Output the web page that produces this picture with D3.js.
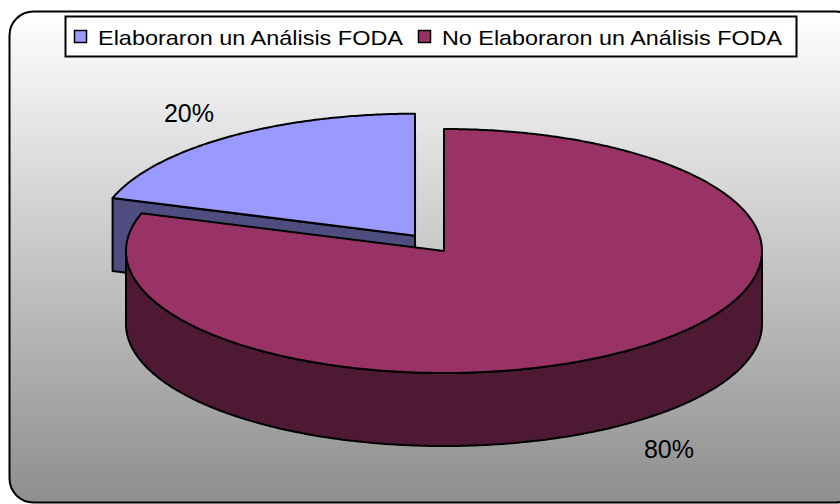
<!DOCTYPE html>
<html>
<head>
<meta charset="utf-8">
<script src="https://cdn.jsdelivr.net/npm/d3@7"></script>
<style>
  html, body { margin: 0; padding: 0; background: #fff; }
  svg { display: block; font-family: "Liberation Sans", Arial, sans-serif; }
</style>
</head>
<body>
<svg id="chart" width="840" height="504"></svg>
<script>
// chart data
const categories = ["Elaboraron un Análisis FODA", "No Elaboraron un Análisis FODA"];
const values = [20, 80];
const pctLabels = ["20%", "80%"];
const topColors = ["#9999ff", "#993366"];
const sideColors = ["#4d4d80", "#4d1933"];

const svg = d3.select("#chart");
const width = 840, height = 504;

// background gradient + rounded frame
const defs = svg.append("defs");
const grad = defs.append("linearGradient")
    .attr("id", "bg").attr("x1", 0).attr("y1", 0).attr("x2", 0).attr("y2", 1);
grad.append("stop").attr("offset", "0%").attr("stop-color", "#ffffff");
grad.append("stop").attr("offset", "100%").attr("stop-color", "#8e8e8e");

svg.append("rect")
    .attr("x", 9.5).attr("y", 11.5)
    .attr("width", 850).attr("height", 491)
    .attr("rx", 24).attr("ry", 24)
    .attr("fill", "url(#bg)")
    .attr("stroke", "#000").attr("stroke-width", 2);

// pie geometry
const cx = 444, cy = 251, rx = 318, ry = 122, depth = 73;
const explode = 0.155;

const pie = d3.pie().sort(null)
    .startAngle(-72 * Math.PI / 180)
    .endAngle(288 * Math.PI / 180);
const arcs = pie(values);

// angle -> point on ellipse (0 = top, clockwise)
function pt(a, ox, oy, dz) {
    return [ox + rx * Math.sin(a), oy - ry * Math.cos(a) + (dz || 0)];
}
function arcPts(a0, a1, ox, oy, dz) {
    const n = Math.max(2, Math.ceil(Math.abs(a1 - a0) / 0.01));
    const step = d3.scaleLinear().domain([0, n]).range([a0, a1]);
    return d3.range(n + 1).map(i => pt(step(i), ox, oy, dz));
}
const line = d3.line();

function offsetOf(d) {
    if (d.index !== 0) return [cx, cy];
    const mid = (d.startAngle + d.endAngle) / 2;
    return [cx + explode * rx * Math.sin(mid), cy - explode * ry * Math.cos(mid)];
}

const g = svg.append("g");

arcs.forEach(d => {
    const [ox, oy] = offsetOf(d);
    const i = d.index;
    const sty = sel => sel.attr("stroke", "#000").attr("stroke-width", 2)
        .attr("stroke-linejoin", "round");

    // cut face at start angle (visible when it faces the viewer)
    if (Math.sin(d.startAngle) < 0 && i === 0) {
        const p = pt(d.startAngle, ox, oy);
        const face = [[ox, oy], p, [p[0], p[1] + depth], [ox, oy + depth]];
        g.append("path").attr("d", line(face) + "Z")
            .attr("fill", sideColors[i]).call(sty);
    }

    // outer side, front half only (PI/2 .. 3PI/2)
    const s0 = Math.max(d.startAngle, Math.PI / 2);
    const s1 = Math.min(d.endAngle, 3 * Math.PI / 2);
    if (s1 > s0) {
        const topEdge = arcPts(s0, s1, ox, oy, 0);
        const botEdge = arcPts(s1, s0, ox, oy, depth);
        g.append("path").attr("d", line(topEdge.concat(botEdge)) + "Z")
            .attr("fill", sideColors[i]).call(sty);
    }

    // top face
    const top = [[ox, oy]].concat(arcPts(d.startAngle, d.endAngle, ox, oy, 0));
    g.append("path").attr("d", line(top) + "Z")
        .attr("fill", topColors[i]).call(sty);
});

// percentage labels
const labelPos = [[189, 122], [669, 458]];
svg.selectAll("text.pct").data(pctLabels).join("text")
    .attr("class", "pct")
    .attr("x", (d, i) => labelPos[i][0])
    .attr("y", (d, i) => labelPos[i][1])
    .attr("text-anchor", "middle")
    .attr("font-size", 25)
    .attr("fill", "#000")
    .text(d => d);

// legend
svg.append("rect")
    .attr("x", 65.5).attr("y", 16.5).attr("width", 731).attr("height", 40)
    .attr("fill", "#fff").attr("stroke", "#000").attr("stroke-width", 2);

const legendX = [74, 418];
const legendLen = [305, 340];
const lg = svg.selectAll("g.leg").data(categories).join("g")
    .attr("class", "leg")
    .attr("transform", (d, i) => `translate(${legendX[i]},30)`);
lg.append("rect")
    .attr("x", 0.5).attr("y", 0.5).attr("width", 12).attr("height", 12)
    .attr("fill", (d, i) => topColors[i])
    .attr("stroke", "#000").attr("stroke-width", 1.5);
lg.append("text")
    .attr("x", 24).attr("y", 14.5)
    .attr("font-size", 21)
    .attr("textLength", (d, i) => legendLen[i])
    .attr("lengthAdjust", "spacingAndGlyphs")
    .attr("fill", "#000")
    .text(d => d);
</script>
</body>
</html>
